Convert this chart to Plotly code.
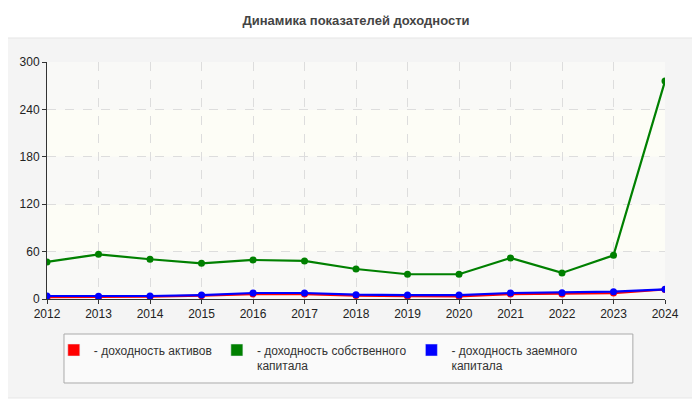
import plotly.graph_objects as go

years = [2012, 2013, 2014, 2015, 2016, 2017, 2018, 2019, 2020, 2021, 2022, 2023, 2024]
roa = [2.3, 2.6, 3.0, 4.2, 6.2, 6.2, 4.3, 3.6, 3.4, 6.2, 6.4, 7.5, 12.0]
roe = [46.9, 56.6, 50.3, 45.2, 49.4, 48.2, 38.0, 31.3, 31.3, 52.0, 33.0, 55.3, 275.9]
rod = [3.8, 3.4, 3.8, 5.0, 7.6, 7.6, 5.5, 5.0, 5.0, 7.6, 8.0, 9.3, 12.3]
y_ticks = [0, 60, 120, 180, 240, 300]

series = [
    ("- доходность активов", roa, "#ff0000"),
    ("- доходность собственного<br>капитала", roe, "#008000"),
    ("- доходность заемного<br>капитала", rod, "#0000ff"),
]

fig = go.Figure()
for name, vals, col in series:
    fig.add_trace(go.Scatter(
        x=years, y=vals, mode="lines+markers", name=name,
        line=dict(color=col, width=2.2), marker=dict(color=col, size=7),
        showlegend=False, hoverinfo="x+y"))
# legend swatches
for name, vals, col in series:
    fig.add_trace(go.Bar(x=[None], y=[None], name=name, marker=dict(color=col),
                         showlegend=True, hoverinfo="skip"))

shapes = []
# panel background
shapes.append(dict(type="rect", xref="paper", yref="paper", x0=-0.07, x1=1.0518,
                   y0=-0.4177, y1=1.1013, fillcolor="#f4f4f4",
                   line=dict(color="#e6e6e6", width=1), layer="below"))
# plot bg bands
for i in range(len(y_ticks) - 1):
    shapes.append(dict(type="rect", xref="paper", yref="y", x0=0, x1=1,
                       y0=y_ticks[i], y1=y_ticks[i + 1],
                       fillcolor="#f9f9f7" if i % 2 == 0 else "#fdfdf6",
                       line=dict(width=0), layer="below"))
# legend box
shapes.append(dict(type="rect", xref="paper", yref="paper", x0=0.0275, x1=0.948,
                   y0=-0.3544, y1=-0.1477, fillcolor="#fafafa",
                   line=dict(color="#aaaaaa", width=1), layer="below"))

fig.update_layout(
    width=700, height=400,
    margin=dict(l=39, r=43, t=54, b=109),
    paper_bgcolor="white", plot_bgcolor="rgba(0,0,0,0)",
    font=dict(family="Liberation Sans, Arial, sans-serif", size=12, color="#222"),
    title=dict(text="<b>Динамика показателей доходности</b>", x=0.5, xref="paper",
               xanchor="center", y=0.97, yanchor="middle",
               font=dict(size=13, color="#444")),
    shapes=shapes,
    showlegend=True,
    legend=dict(orientation="h", x=0.011, y=-0.155, xanchor="left", yanchor="top",
                bgcolor="rgba(0,0,0,0)", font=dict(size=12, color="#333"),
                valign="top", itemclick=False, itemdoubleclick=False),
    xaxis=dict(range=[2012, 2024], tickmode="array", tickvals=years,
               ticktext=[str(y) for y in years], showline=True, linecolor="#333",
               linewidth=1, ticks="outside", ticklen=4, tickcolor="#333",
               showgrid=True, gridcolor="#dddddd", griddash="dash", zeroline=False),
    yaxis=dict(range=[0, 300], tickmode="array", tickvals=y_ticks,
               showline=True, linecolor="#333", linewidth=1, ticks="outside",
               ticklen=4, tickcolor="#333", showgrid=True, gridcolor="#dddddd",
               griddash="dash", zeroline=False),
)

fig.write_html("out.html")
